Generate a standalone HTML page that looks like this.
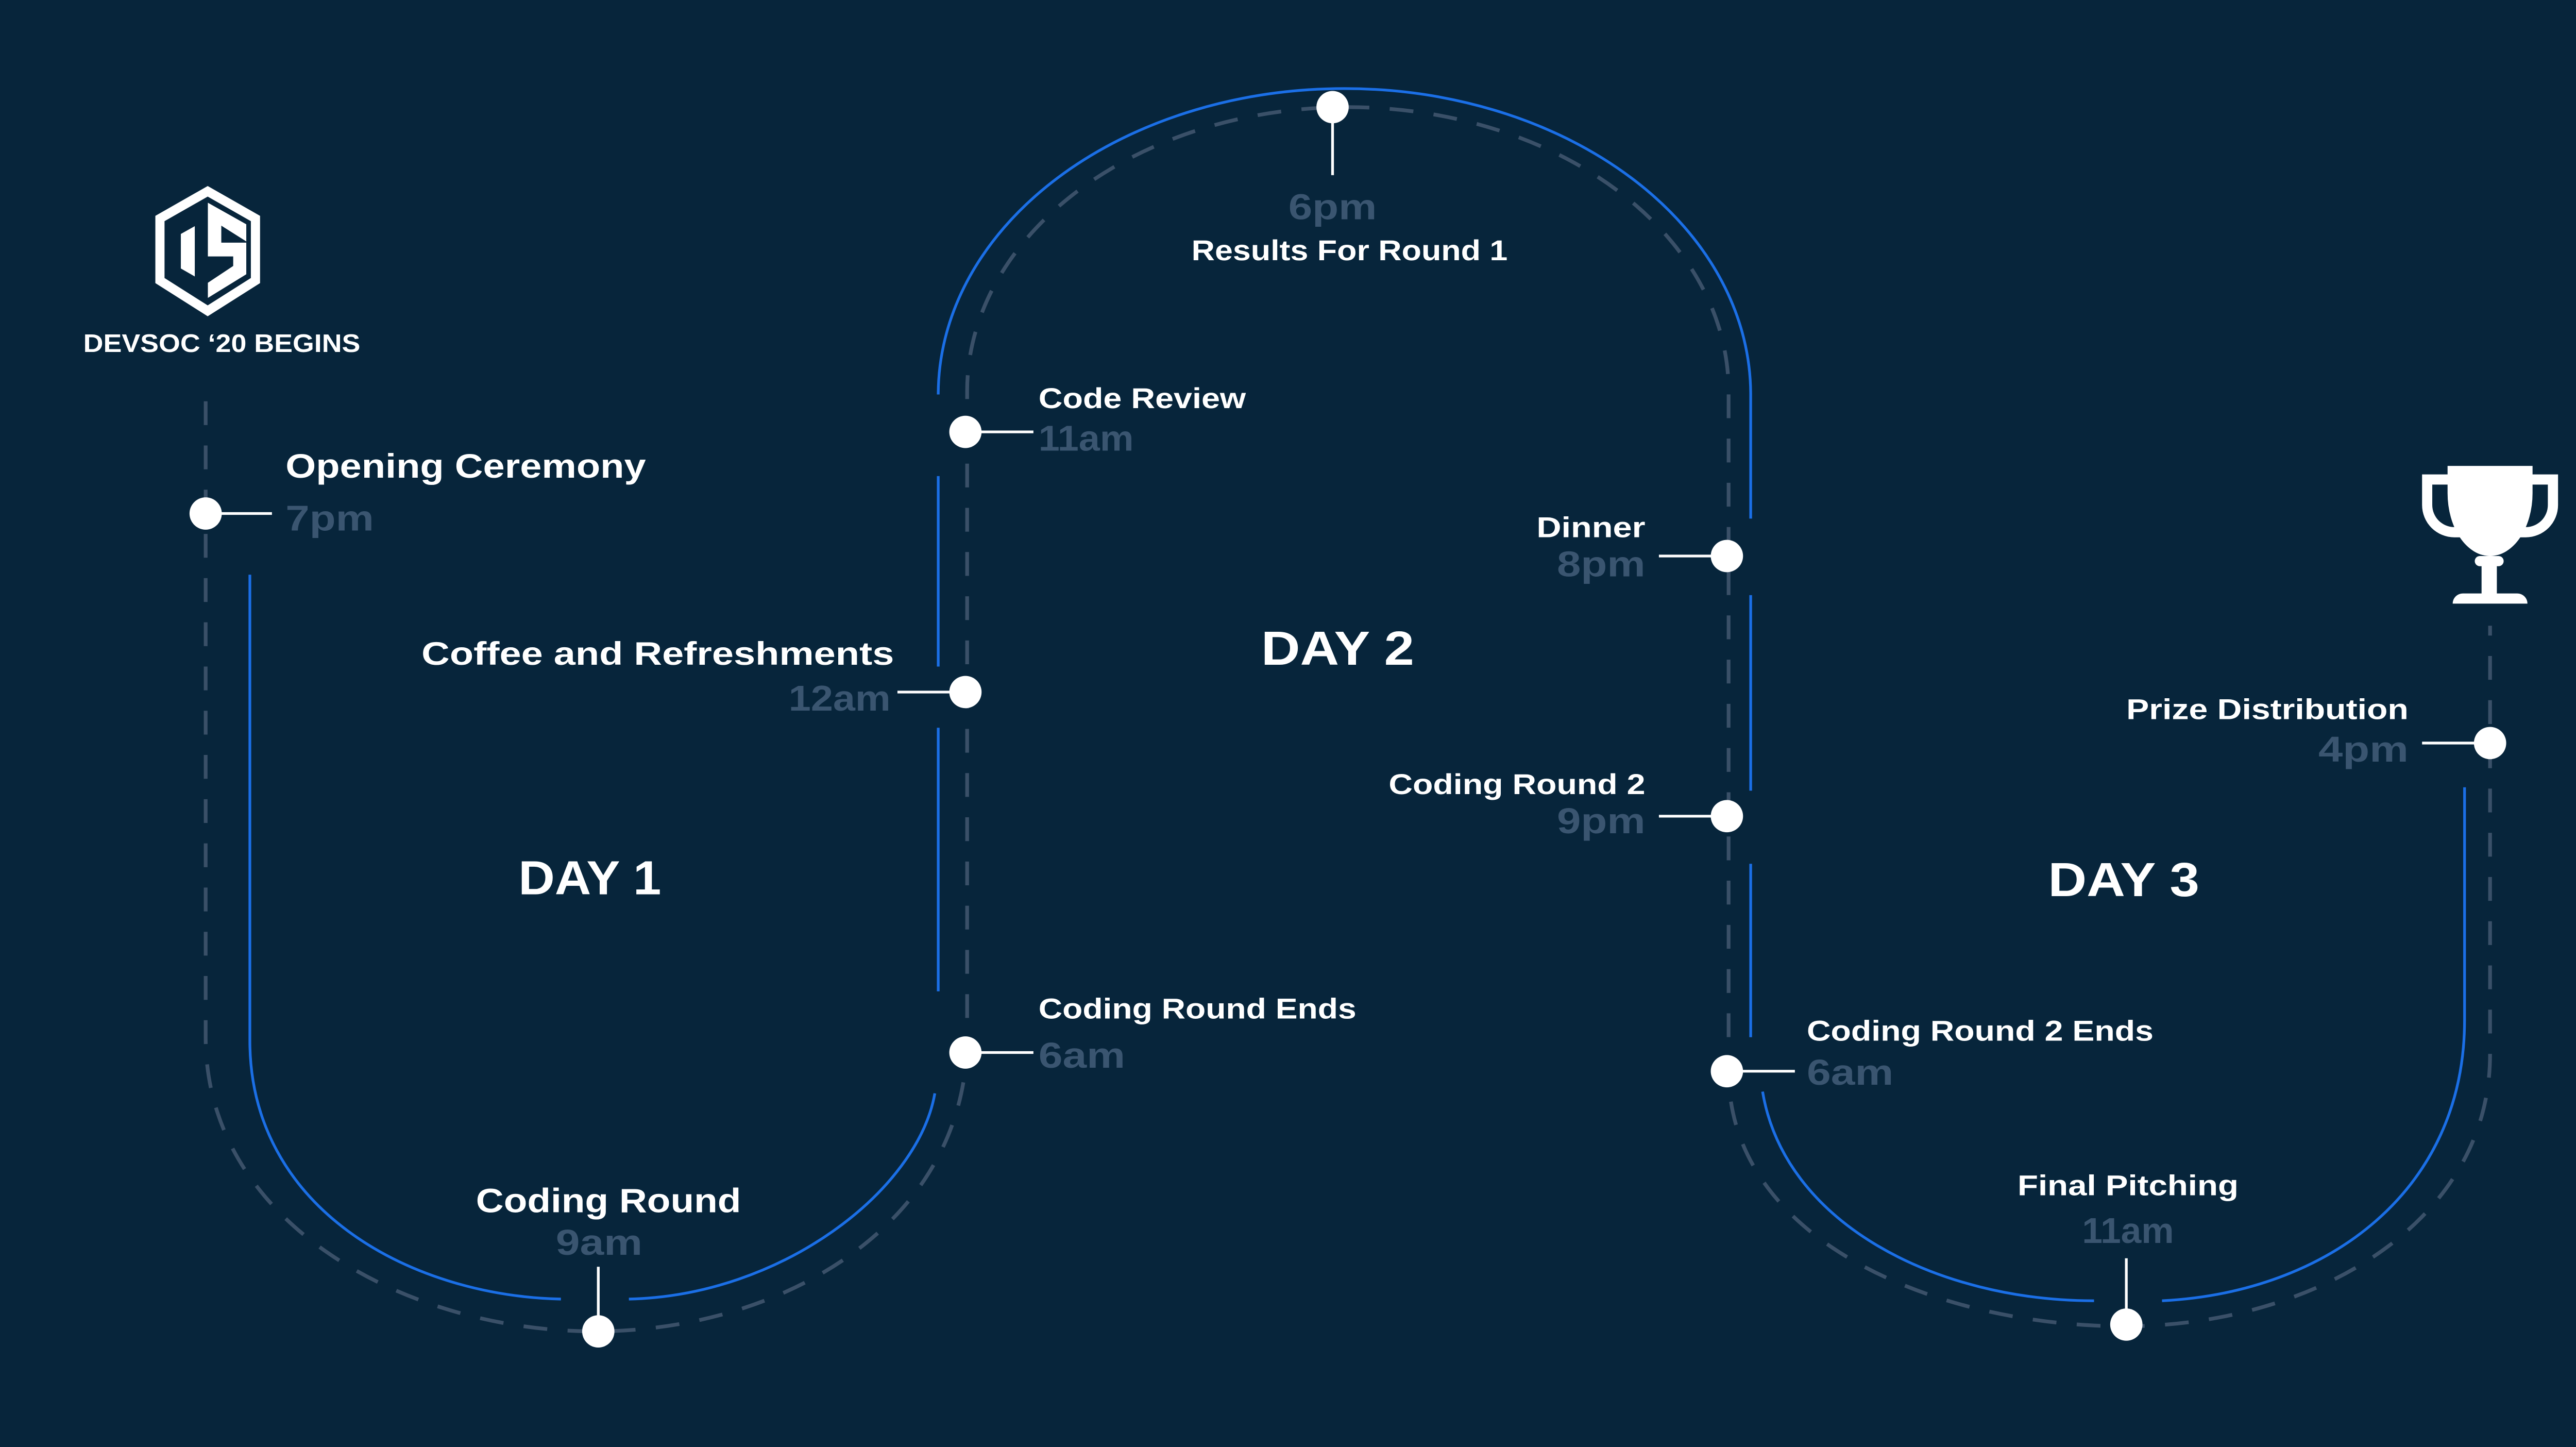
<!DOCTYPE html>
<html><head><meta charset="utf-8"><style>
html,body{margin:0;padding:0;background:#07253b;width:5173px;height:2808px;overflow:hidden;}
svg{display:block;width:5173px;height:2808px;position:absolute;left:0;top:0;}
text{font-family:"Liberation Sans",sans-serif;font-weight:bold;}
.t{fill:#ffffff;font-size:18px;}
.tm{fill:#3a5570;font-size:21px;}
.d{fill:#ffffff;font-size:28px;}
</style></head><body>
<svg viewBox="0 0 1568 851" preserveAspectRatio="none">
<rect width="1568" height="851" fill="#07253b"/>
<path fill="none" stroke="#3a5068" stroke-width="2.2" stroke-dasharray="14,12"
 d="M121,236 L121,610 C121,720 240,783 350,783 C460,783 569,720 569,610 L569,230 A224,167 0 0 1 1017,230 L1017,630 C1017,730 1140,780 1250,780 C1360,780 1465,720 1465,620 L1465,368"/>
<g fill="none" stroke="#1b6fe6" stroke-width="1.6">
<path d="M147,338 L147,612 C147,710 240,762 330,764"/>
<path d="M370,764 C460,762 540,700 550,643"/>
<path d="M552,583 L552,428"/><path d="M552,392 L552,280"/>
<path d="M552,232 A239,180 0 0 1 1030,232 L1030,305"/>
<path d="M1030,350 L1030,465"/><path d="M1030,508 L1030,610"/>
<path d="M1037,642 C1050,720 1140,765 1232,765"/>
<path d="M1272,765 C1370,760 1450,700 1450,600 L1450,463"/>
</g>
<g>
<polygon points="122.2,112.5 150.3,128.5 150.3,165 122.2,182.8 94.1,165 94.1,128.5" fill="none" stroke="#fff" stroke-width="5.4"/>
<polygon points="106.4,137.6 114.6,133 114.6,162.6 106.4,157.9" fill="#fff"/>
<polygon points="122.3,119.2 144.9,131.9 144.9,161.3 122.3,175.2 122.3,166.3 137.2,156.4 137.2,150.8 122.3,150.8" fill="#fff"/>
<polygon points="130.2,132.7 144.9,142 144.9,142.7 130.2,142.7" fill="#07253b"/>
</g>
<text x="49" y="207" class="t" style="font-size:15px" textLength="163" lengthAdjust="spacingAndGlyphs">DEVSOC ‘20 BEGINS</text>
<g fill="#fff">
<path d="M1440,274 H1490 V290 A25,37 0 0 1 1440,290 Z"/>
<path d="M1441,279 L1425,279 L1425,297 A19,19 0 0 0 1444,316 L1448,316 L1446,310 L1444,310 A13,13 0 0 1 1431,297 L1431,285 L1441,285 Z"/>
<path d="M1489,279 L1505,279 L1505,297 A19,19 0 0 1 1486,316 L1482,316 L1484,310 L1486,310 A13,13 0 0 0 1499,297 L1499,285 L1489,285 Z"/>
<rect x="1456" y="327" width="17" height="6" rx="3"/>
<rect x="1460" y="332" width="9" height="18"/>
<path d="M1443,355 A6,6 0 0 1 1449,349 L1481,349 A6,6 0 0 1 1487,355 Z"/>
</g>
<g stroke="#fff" stroke-width="1.6">
<line x1="121" y1="302" x2="160" y2="302"/>
<line x1="528" y1="407" x2="568" y2="407"/>
<line x1="568" y1="254" x2="608" y2="254"/>
<line x1="568" y1="619" x2="608" y2="619"/>
<line x1="352" y1="745" x2="352" y2="783"/>
<line x1="784" y1="63" x2="784" y2="103"/>
<line x1="976" y1="327" x2="1016" y2="327"/>
<line x1="976" y1="480" x2="1016" y2="480"/>
<line x1="1016" y1="630" x2="1056" y2="630"/>
<line x1="1251" y1="740" x2="1251" y2="779"/>
<line x1="1425" y1="437" x2="1465" y2="437"/>
</g>
<g fill="#fff">
<circle cx="121" cy="302" r="9.5"/>
<circle cx="568" cy="407" r="9.5"/>
<circle cx="568" cy="254" r="9.5"/>
<circle cx="568" cy="619" r="9.5"/>
<circle cx="352" cy="783" r="9.5"/>
<circle cx="784" cy="63" r="9.5"/>
<circle cx="1016" cy="327" r="9.5"/>
<circle cx="1016" cy="480" r="9.5"/>
<circle cx="1016" cy="630" r="9.5"/>
<circle cx="1251" cy="779" r="9.5"/>
<circle cx="1465" cy="437" r="9.5"/>
</g>
<text x="168" y="281" class="t" style="font-size:20px" textLength="212" lengthAdjust="spacingAndGlyphs">Opening Ceremony</text>
<text x="168" y="312" class="tm" textLength="52" lengthAdjust="spacingAndGlyphs">7pm</text>
<text x="248" y="391" class="t" style="font-size:19px" textLength="278" lengthAdjust="spacingAndGlyphs">Coffee and Refreshments</text>
<text x="464" y="418" class="tm" textLength="60" lengthAdjust="spacingAndGlyphs">12am</text>
<text x="611" y="240" class="t" style="font-size:17px" textLength="122" lengthAdjust="spacingAndGlyphs">Code Review</text>
<text x="611" y="265" class="tm" textLength="56" lengthAdjust="spacingAndGlyphs">11am</text>
<text x="611" y="599" class="t" style="font-size:17px" textLength="187" lengthAdjust="spacingAndGlyphs">Coding Round Ends</text>
<text x="611" y="628" class="tm" textLength="51" lengthAdjust="spacingAndGlyphs">6am</text>
<text x="280" y="713" class="t" style="font-size:20px" textLength="156" lengthAdjust="spacingAndGlyphs">Coding Round</text>
<text x="327" y="738" class="tm" textLength="51" lengthAdjust="spacingAndGlyphs">9am</text>
<text x="758" y="129" class="tm" textLength="52" lengthAdjust="spacingAndGlyphs">6pm</text>
<text x="701" y="153" class="t" style="font-size:17px" textLength="186" lengthAdjust="spacingAndGlyphs">Results For Round 1</text>
<text x="305" y="526" class="d" textLength="84" lengthAdjust="spacingAndGlyphs">DAY 1</text>
<text x="742" y="391" class="d" textLength="90" lengthAdjust="spacingAndGlyphs">DAY 2</text>
<text x="1205" y="527" class="d" textLength="89" lengthAdjust="spacingAndGlyphs">DAY 3</text>
<text x="904" y="316" class="t" style="font-size:17px" textLength="64" lengthAdjust="spacingAndGlyphs">Dinner</text>
<text x="916" y="339" class="tm" textLength="52" lengthAdjust="spacingAndGlyphs">8pm</text>
<text x="817" y="467" class="t" style="font-size:17px" textLength="151" lengthAdjust="spacingAndGlyphs">Coding Round 2</text>
<text x="916" y="490" class="tm" textLength="52" lengthAdjust="spacingAndGlyphs">9pm</text>
<text x="1063" y="612" class="t" style="font-size:17px" textLength="204" lengthAdjust="spacingAndGlyphs">Coding Round 2 Ends</text>
<text x="1063" y="638" class="tm" textLength="51" lengthAdjust="spacingAndGlyphs">6am</text>
<text x="1187" y="703" class="t" style="font-size:17px" textLength="130" lengthAdjust="spacingAndGlyphs">Final Pitching</text>
<text x="1225" y="731" class="tm" textLength="54" lengthAdjust="spacingAndGlyphs">11am</text>
<text x="1251" y="423" class="t" style="font-size:17px" textLength="166" lengthAdjust="spacingAndGlyphs">Prize Distribution</text>
<text x="1364" y="448" class="tm" textLength="53" lengthAdjust="spacingAndGlyphs">4pm</text>
</svg>
</body></html>
